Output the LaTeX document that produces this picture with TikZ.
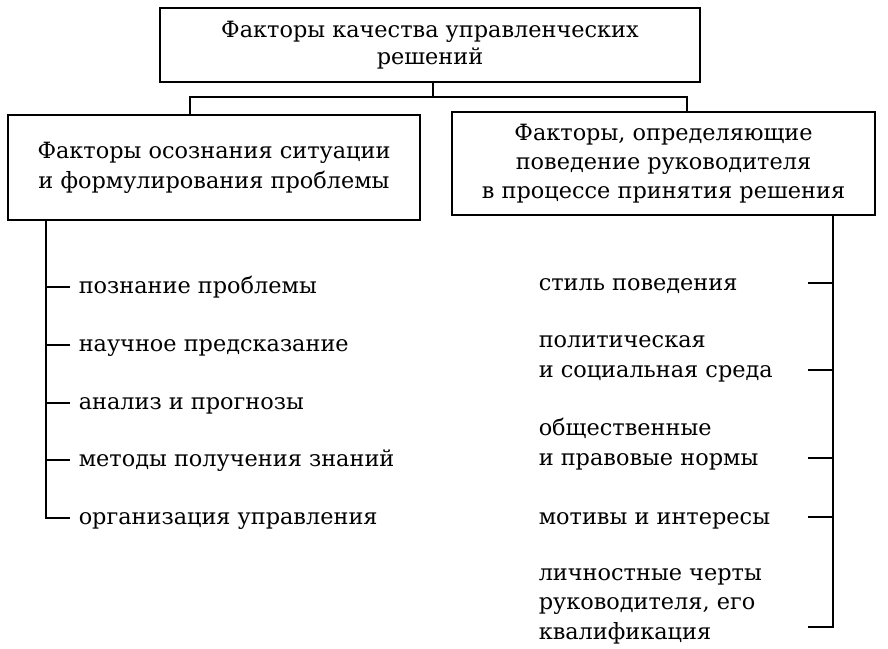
\documentclass[tikz,border=0pt]{standalone}
\usepackage{fontspec}
\setmainfont{DejaVu Serif}
\begin{document}
\begin{tikzpicture}[x = 1pt, y = -1pt, line width = 1.5pt,
  box/.style = {draw, align = center, inner sep = 0pt, font = \fontsize{22.4}{29}\selectfont},
  item/.style = {anchor = base west, inner xsep = 8pt, inner ysep = 0pt, text height = 16pt, text depth = 4.4pt, font = \fontsize{22.4}{29.5}\selectfont},
  ritem/.style = {anchor = base west, inner sep = 0pt, align = left, font = \fontsize{22.4}{29.5}\selectfont}]
\useasboundingbox (0, 0) rectangle (888, 648);
% boxes
\node [box, font = \fontsize{22.4}{27}\selectfont, minimum width = 540, minimum height = 74] (topbox) at (430, 45) {Факторы качества управленческих\\решений};
\node [box, font = \fontsize{22.4}{30}\selectfont, minimum width = 412, minimum height = 105] (lbox) at (214, 167.5) {Факторы осознания ситуации\\и формулирования проблемы};
\node [box, minimum width = 423, minimum height = 103] (rbox) at (663.5, 163.5) {Факторы, определяющие\\поведение руководителя\\в процессе принятия решения};
% bracket
\coordinate (fork) at (433, 97);
\coordinate (lfoot) at (190, 115);
\coordinate (rfoot) at (687, 112);
\draw (topbox.south -| fork) -- (fork);
\draw (lfoot) |- (fork) -| (rfoot);
% left list
\coordinate (ltop) at (46, 220);
\foreach \y/\t [count = \i] in {287/познание проблемы, 345/научное предсказание, 403/анализ и прогнозы, 460/методы получения знаний, 518/организация управления}
  \node [item] (l\i) at (70, \y + 6) {\t};
\draw (ltop) |- (l5.west);
\foreach \i in {1, ..., 4}
  \draw (l\i.west -| ltop) -- (l\i.west);
% right list
\coordinate (rtop) at (833, 215);
\foreach \y/\t [count = \i] in {290/{стиль поведения}, 377/{политическая\\и социальная среда}, 465/{общественные\\и правовые нормы}, 524/{мотивы и интересы}, 639/{личностные черты\\руководителя, его\\квалификация}}
  \node [ritem] (r\i) at (538, \y) {\t};
\foreach \y [count = \i] in {283, 370, 458, 517, 627}
  \coordinate (rt\i) at (808, \y);
\draw (rtop) |- (rt5);
\foreach \i in {1, ..., 4}
  \draw (rt\i) -- (rt\i -| rtop);
\end{tikzpicture}
\end{document}
